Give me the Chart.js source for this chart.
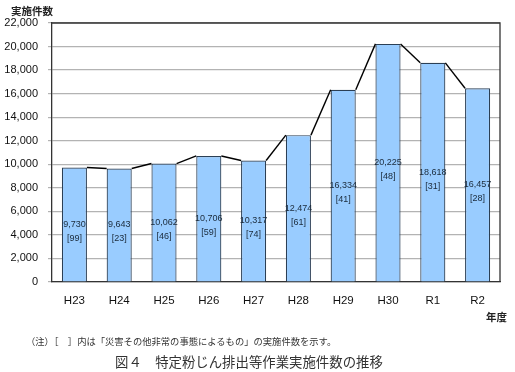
<!DOCTYPE html>
<html><head><meta charset="utf-8">
<script src="https://cdn.jsdelivr.net/npm/chart.js@4"></script>
<style>
html,body{margin:0;padding:0;background:#fff;}
#wrap{position:relative;width:515px;height:372px;overflow:hidden;}
canvas{position:absolute;left:0;top:0;}
.t{position:absolute;white-space:nowrap;font-family:"Noto Sans CJK JP",sans-serif;color:#222;}
</style></head><body>
<div id="wrap">
<canvas id="c" width="515" height="372"></canvas>
<div class="t" style="left:11px;top:3px;font-size:10.5px;font-weight:bold;">実施件数</div>
<div class="t" style="left:486px;top:309px;font-size:10.5px;font-weight:bold;">年度</div>
<div class="t" style="left:26px;top:334px;font-size:9.3px;color:#333;">（注）［　］内は「災害その他非常の事態によるもの」の実施件数を示す。</div>
<div class="t" style="left:115px;top:351px;font-size:13.4px;color:#333;">図４　特定粉じん排出等作業実施件数の推移</div>
</div>
<script>
const categories = ["H23","H24","H25","H26","H27","H28","H29","H30","R1","R2"];
const totals = [9730, 9643, 10062, 10706, 10317, 12474, 16334, 20225, 18618, 16457];
const emergency = [99, 23, 46, 59, 74, 61, 41, 48, 31, 28];
const yTicks = [0,2000,4000,6000,8000,10000,12000,14000,16000,18000,20000,22000];

const fmt = v => v.toLocaleString('en-US');

const seriesLines = {
  id:'seriesLines',
  afterDatasetsDraw(chart){
    const ctx = chart.ctx, meta = chart.getDatasetMeta(0);
    ctx.save();
    ctx.strokeStyle = '#000'; ctx.lineWidth = 1.4;
    for (let i=0;i<meta.data.length-1;i++){
      const a = meta.data[i], b = meta.data[i+1];
      ctx.beginPath();
      ctx.moveTo(a.x + a.width/2, a.y);
      ctx.lineTo(b.x - b.width/2, b.y);
      ctx.stroke();
    }
    // labels
    ctx.fillStyle = '#1a2a3a';
    ctx.font = '9px "Liberation Sans", Arial, sans-serif';
    ctx.textAlign = 'center'; ctx.textBaseline = 'middle';
    meta.data.forEach((el,i)=>{
      const mid = (el.y + el.base)/2;
      ctx.fillText(fmt(totals[i]), el.x, mid);
      ctx.fillText('[' + emergency[i] + ']', el.x, mid + 14);
    });
    // box
    const ca = chart.chartArea;
    ctx.strokeStyle = '#333'; ctx.lineWidth = 1.3;
    ctx.beginPath();
    ctx.moveTo(ca.left, ca.top); ctx.lineTo(ca.right, ca.top); ctx.lineTo(ca.right, ca.bottom);
    ctx.stroke();
    ctx.restore();
  }
};

new Chart(document.getElementById('c'), {
  type:'bar',
  data:{labels:categories, datasets:[{data:totals, backgroundColor:'#99ccff', borderColor:'#2b3f55', borderWidth:1.2, categoryPercentage:1, barPercentage:0.56}]},
  options:{
    responsive:false, animation:false,
    layout:{padding:{top:23,right:15,left:0,bottom:0}},
    plugins:{legend:{display:false}, tooltip:{enabled:false}},
    scales:{
      x:{
        grid:{display:false, drawTicks:false},
        border:{color:'#333', width:1.3},
        ticks:{color:'#111', font:{family:'"Liberation Sans", Arial, sans-serif', size:11.5}, padding:12},
        afterFit(s){ s.height = 90; }
      },
      y:{
        min:0, max:22000,
        afterBuildTicks(s){ s.ticks = yTicks.map(v=>({value:v})); },
        grid:{color:'#b3b3b3', lineWidth:1.2, tickLength:4},
        border:{color:'#333', width:1.3},
        ticks:{color:'#111', font:{family:'"Liberation Sans", Arial, sans-serif', size:11}, padding:10, callback:v=>fmt(v)},
        afterFit(s){ s.width = 52; }
      }
    }
  },
  plugins:[seriesLines]
});
</script>
</body></html>
